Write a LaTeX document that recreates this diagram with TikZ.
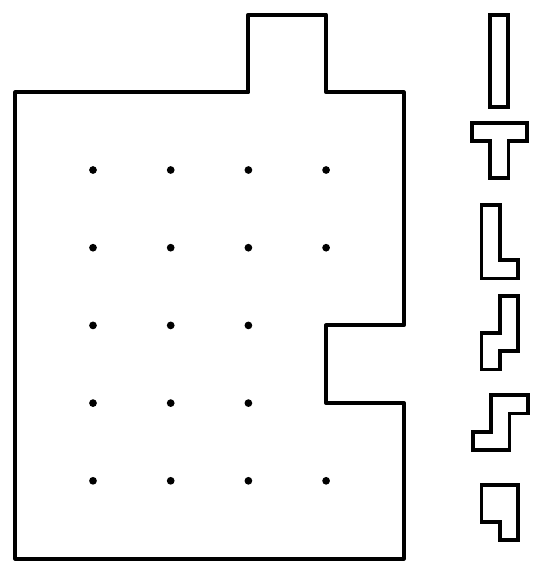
\documentclass[tikz,border=0pt]{standalone}
\begin{document}
\begin{tikzpicture}[x=0.75pt,y=-0.75pt,
  outline/.style={line width=3pt,line join=round},
  piece/.style={line width=2.8pt,line join=miter},
  dotmark/.style={fill=black}]
\useasboundingbox (0,0) rectangle (541,562);
% main region, grid unit 77.7, origin at first dot (93,170)
\begin{scope}[shift={(93,170)},x=58.275pt,y=-58.275pt]
  \draw[outline] (-1,-1) -- (2,-1) -- (2,-2) -- (3,-2) -- (3,-1) -- (4,-1)
    -- (4,2) -- (3,2) -- (3,3) -- (4,3) -- (4,5) -- (-1,5) -- cycle;
  \foreach \r/\n in {0/3,1/3,2/2,3/2,4/3}{
    \foreach \c in {0,...,\n}{
      \fill[dotmark] (\c,\r) circle[radius=2.9pt];
    }
  }
\end{scope}
% pentominoes, unit 18.3 px
\begin{scope}[shift={(490,15.3)},x=13.725pt,y=-13.725pt]
  \draw[piece] (0,0) rectangle (1,5);
\end{scope}
\begin{scope}[shift={(472,123)},x=13.725pt,y=-13.725pt]
  \draw[piece] (0,0) -- (3,0) -- (3,1) -- (2,1) -- (2,3) -- (1,3) -- (1,1) -- (0,1) -- cycle;
\end{scope}
\begin{scope}[shift={(481.5,205.3)},x=13.725pt,y=-13.725pt]
  \draw[piece] (0,0) -- (1,0) -- (1,3) -- (2,3) -- (2,4) -- (0,4) -- cycle;
\end{scope}
\begin{scope}[shift={(481.5,296.3)},x=13.725pt,y=-13.725pt]
  \draw[piece] (1,0) -- (2,0) -- (2,3) -- (1,3) -- (1,4) -- (0,4) -- (0,2) -- (1,2) -- cycle;
\end{scope}
\begin{scope}[shift={(473,395.3)},x=13.725pt,y=-13.725pt]
  \draw[piece] (1,0) -- (3,0) -- (3,1) -- (2,1) -- (2,3) -- (0,3) -- (0,2) -- (1,2) -- cycle;
\end{scope}
\begin{scope}[shift={(481.5,485.3)},x=13.725pt,y=-13.725pt]
  \draw[piece] (0,0) -- (2,0) -- (2,3) -- (1,3) -- (1,2) -- (0,2) -- cycle;
\end{scope}
\end{tikzpicture}
\end{document}
